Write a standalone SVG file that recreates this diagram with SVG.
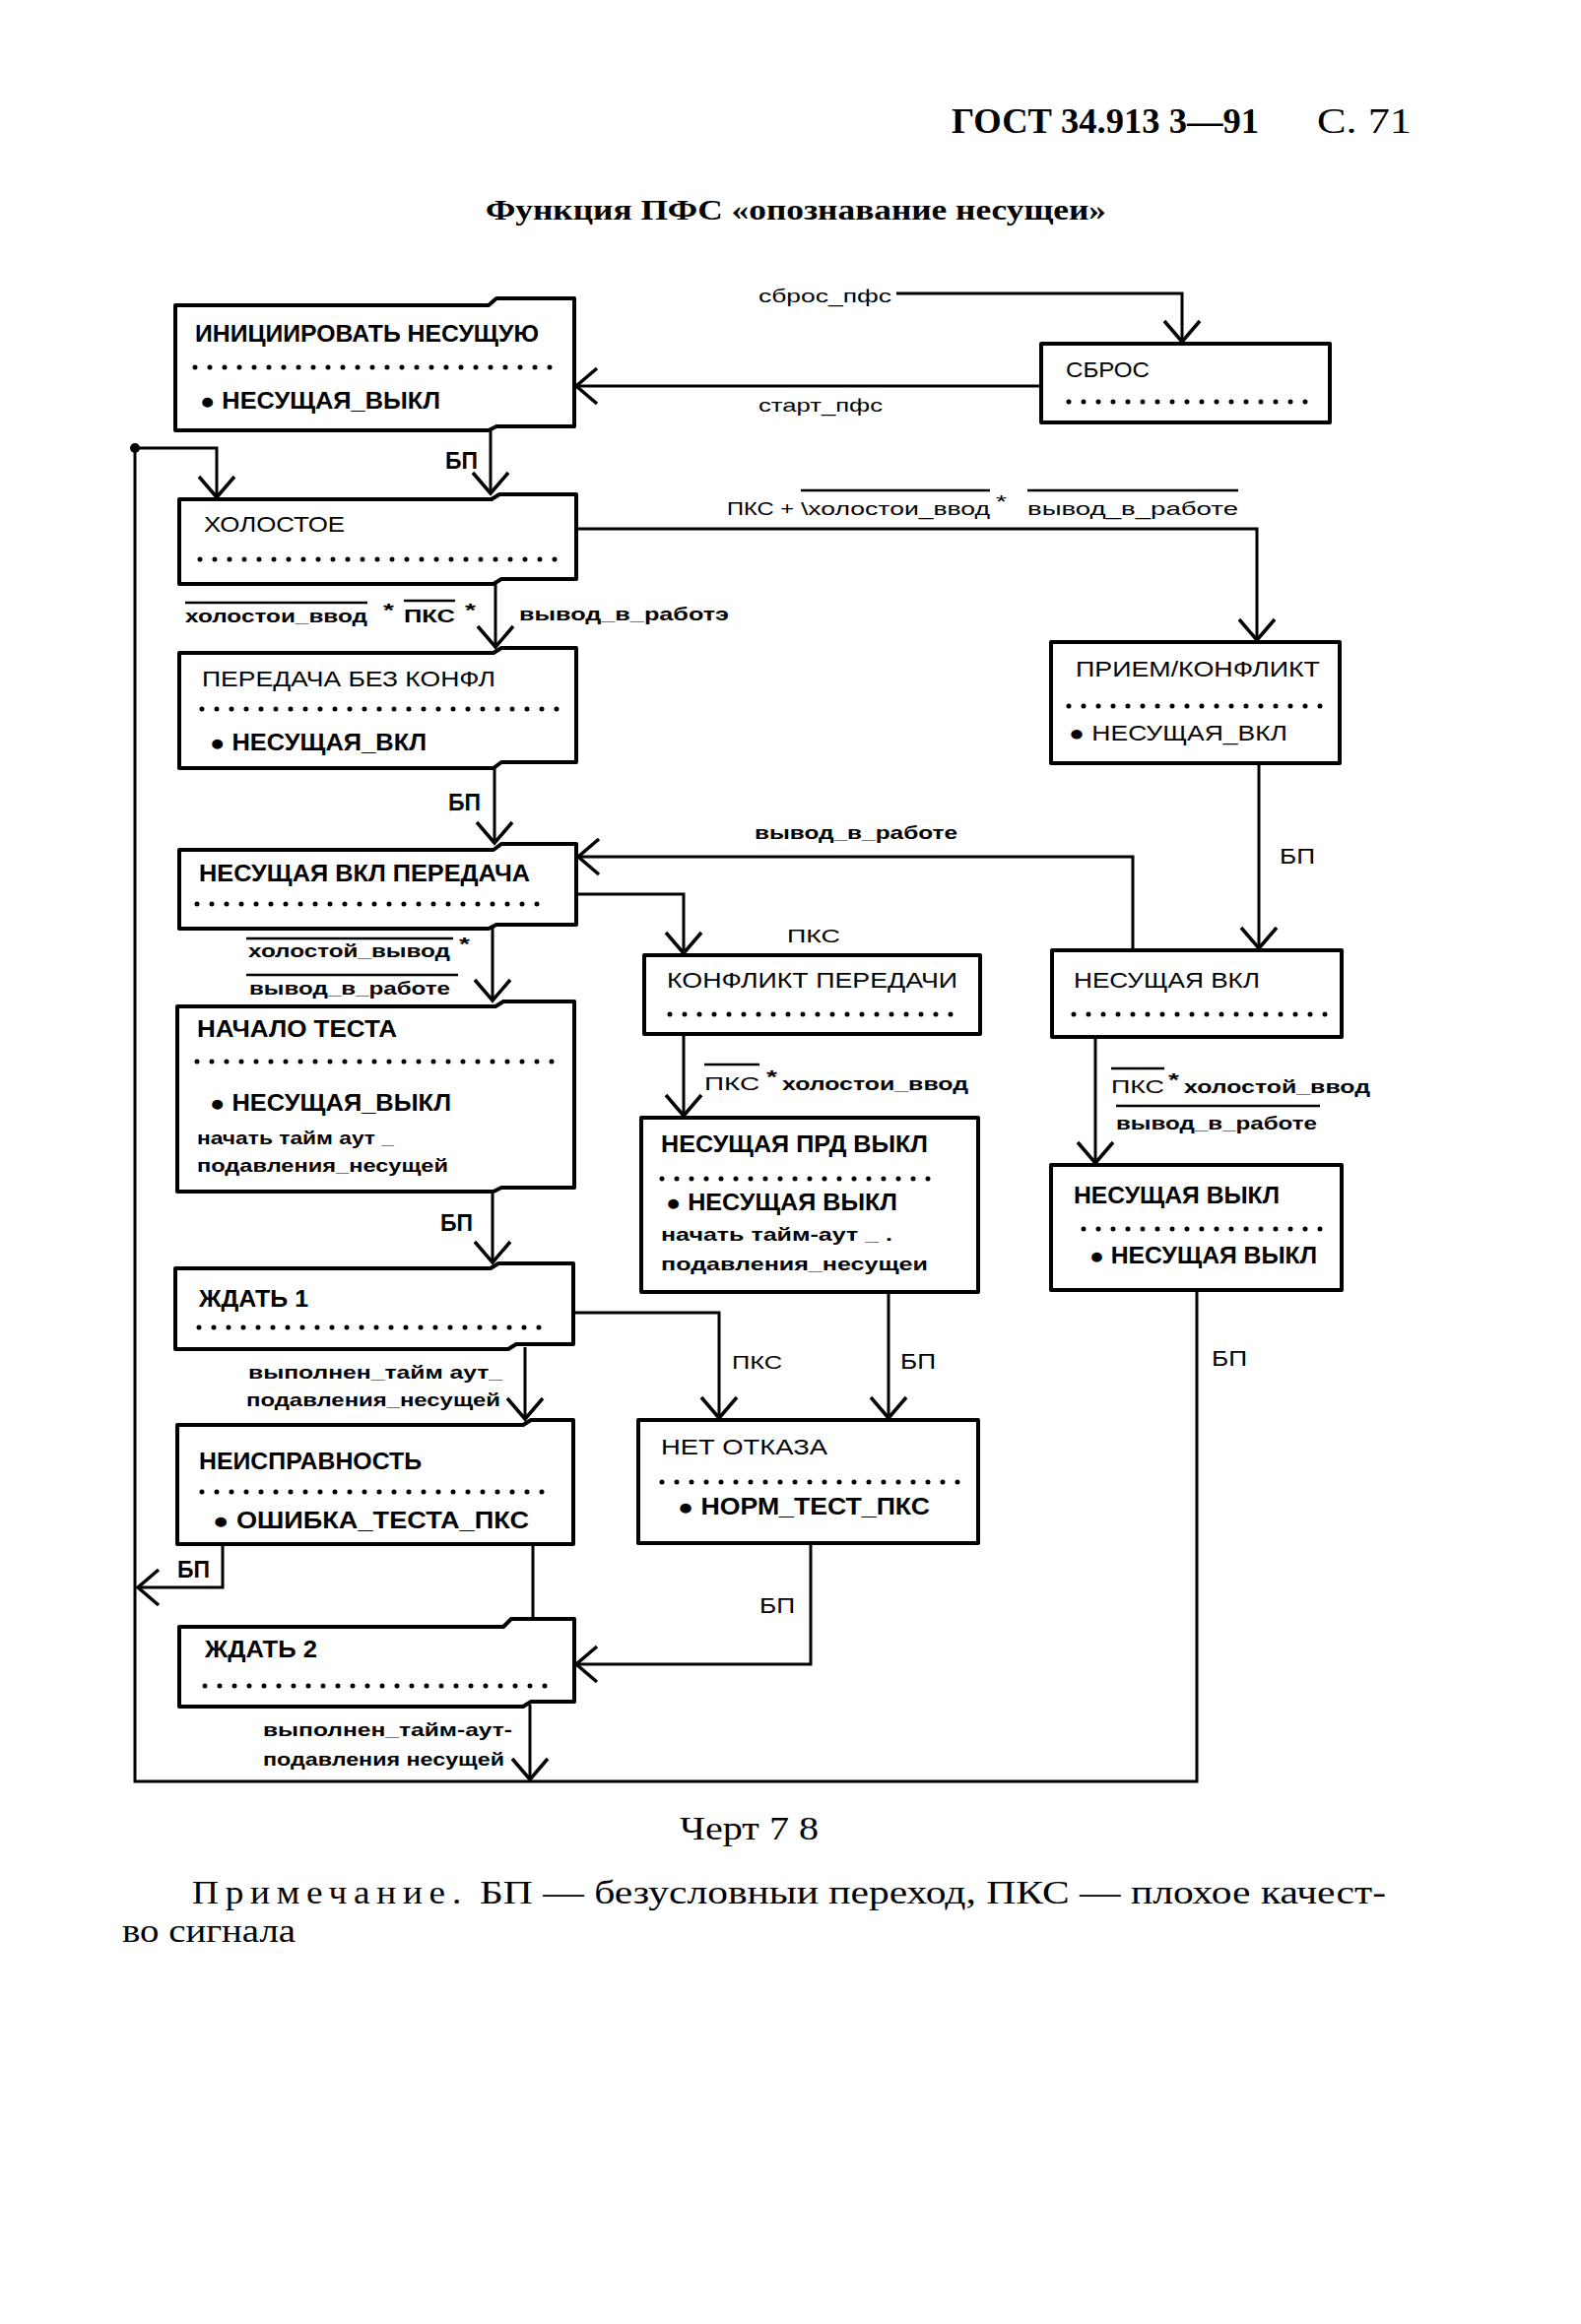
<svg xmlns="http://www.w3.org/2000/svg" width="1605" height="2360" viewBox="0 0 1605 2360">
<style>
.box{fill:none;stroke:#000;stroke-width:4;stroke-linejoin:round}
.ln{fill:none;stroke:#000;stroke-width:3}
.dots{fill:none;stroke:#000;stroke-width:5;stroke-linecap:round;stroke-dasharray:0 15}
.ov{stroke:#000;stroke-width:2.5}
.tb{font-family:"Liberation Sans",Arial,sans-serif;font-size:23px;font-weight:bold}
.tr{font-family:"Liberation Sans",Arial,sans-serif;font-size:22px}
.lb{font-family:"Liberation Sans",Arial,sans-serif;font-size:19px;font-weight:bold}
.lr{font-family:"Liberation Sans",Arial,sans-serif;font-size:19px}
.sb{font-family:"Liberation Serif","Times New Roman",serif;font-weight:bold}
.sr{font-family:"Liberation Serif","Times New Roman",serif}
</style>
<defs>
<marker id="arr" markerUnits="userSpaceOnUse" orient="auto" refX="0" refY="0" markerWidth="30" markerHeight="44" viewBox="-26 -22 30 44" overflow="visible">
<path d="M-21,-18 L0,0 L-21,18" fill="none" stroke="#000" stroke-width="3.5"/>
</marker>
</defs>
<rect width="1605" height="2360" fill="#fff"/>

<g id="header">
<text class="sb" x="966" y="135" font-size="35" textLength="312" lengthAdjust="spacingAndGlyphs">ГОСТ 34.913 3—91</text>
<text class="sr" x="1337" y="135" font-size="35" textLength="96" lengthAdjust="spacingAndGlyphs">С. 71</text>
<text class="sb" x="493" y="223" font-size="30" textLength="630" lengthAdjust="spacingAndGlyphs">Функция ПФС «опознавание несущеи»</text>
</g>

<g id="connectors">
<path class="ln" d="M910,298 H1200 V347" marker-end="url(#arr)"/>
<path class="ln" d="M1057,392 H585" marker-end="url(#arr)"/>
<path class="ln" d="M498,437 V501" marker-end="url(#arr)"/>
<path class="ln" d="M1215,1310 V1809 H137 V455 H220 V505" marker-end="url(#arr)"/>
<circle cx="137" cy="455" r="5" fill="#000"/>
<path class="ln" d="M585,537 H1276 V650" marker-end="url(#arr)"/>
<path class="ln" d="M503,593 V657" marker-end="url(#arr)"/>
<path class="ln" d="M502,778 V856" marker-end="url(#arr)"/>
<path class="ln" d="M1278,775 V963" marker-end="url(#arr)"/>
<path class="ln" d="M1150,965 V870 H587" marker-end="url(#arr)"/>
<path class="ln" d="M585,908 H694 V968" marker-end="url(#arr)"/>
<path class="ln" d="M500,941 V1016" marker-end="url(#arr)"/>
<path class="ln" d="M694,1050 V1133" marker-end="url(#arr)"/>
<path class="ln" d="M1112,1053 V1181" marker-end="url(#arr)"/>
<path class="ln" d="M500,1208 V1282" marker-end="url(#arr)"/>
<path class="ln" d="M582,1333 H730 V1440" marker-end="url(#arr)"/>
<path class="ln" d="M902,1312 V1440" marker-end="url(#arr)"/>
<path class="ln" d="M533,1368 V1441" marker-end="url(#arr)"/>
<path class="ln" d="M226,1568 V1612 H140" marker-end="url(#arr)"/>
<path class="ln" d="M541,1568 V1644"/>
<path class="ln" d="M823,1567 V1690 H585" marker-end="url(#arr)"/>
<path class="ln" d="M538,1731 V1807" marker-end="url(#arr)"/>
</g>

<g id="labels">
<text class="lr" x="770" y="307" textLength="135" lengthAdjust="spacingAndGlyphs">сброс_пфс</text>
<text class="lr" x="770" y="418" textLength="126" lengthAdjust="spacingAndGlyphs">старт_пфс</text>
<text class="tb" x="452" y="476" font-size="21" textLength="33" lengthAdjust="spacingAndGlyphs">БП</text>
<text class="lr" x="738" y="523" textLength="68" lengthAdjust="spacingAndGlyphs">ПКС +</text>
<text class="lr" x="813" y="523" textLength="192" lengthAdjust="spacingAndGlyphs">\холостои_ввод</text>
<text class="lr" x="1011" y="516" textLength="11" lengthAdjust="spacingAndGlyphs">*</text>
<text class="lr" x="1043" y="523" textLength="214" lengthAdjust="spacingAndGlyphs">вывод_в_работе</text>
<line class="ov" x1="813" y1="498" x2="1005" y2="498"/>
<line class="ov" x1="1043" y1="498" x2="1257" y2="498"/>
<text class="lb" x="188" y="632" textLength="185" lengthAdjust="spacingAndGlyphs">холостои_ввод</text>
<text class="lb" x="389" y="626" textLength="11" lengthAdjust="spacingAndGlyphs">*</text>
<text class="lb" x="410" y="632" font-size="22" textLength="52" lengthAdjust="spacingAndGlyphs">ПКС</text>
<text class="lb" x="472" y="626" textLength="11" lengthAdjust="spacingAndGlyphs">*</text>
<line class="ov" x1="188" y1="612" x2="373" y2="612"/>
<line class="ov" x1="410" y1="610" x2="462" y2="610"/>
<text class="lb" x="527" y="630" textLength="213" lengthAdjust="spacingAndGlyphs">вывод_в_работэ</text>
<text class="tb" x="455" y="823" font-size="21" textLength="33" lengthAdjust="spacingAndGlyphs">БП</text>
<text class="lb" x="766" y="852" textLength="206" lengthAdjust="spacingAndGlyphs">вывод_в_работе</text>
<text class="tr" x="1299" y="877" font-size="21" textLength="36" lengthAdjust="spacingAndGlyphs">БП</text>
<text class="lr" x="799" y="957" font-size="21" textLength="54" lengthAdjust="spacingAndGlyphs">ПКС</text>
<text class="lb" x="252" y="972" textLength="205" lengthAdjust="spacingAndGlyphs">холостой_вывод</text>
<text class="lb" x="466" y="965" textLength="11" lengthAdjust="spacingAndGlyphs">*</text>
<line class="ov" x1="250" y1="953" x2="460" y2="953"/>
<text class="lb" x="253" y="1010" textLength="204" lengthAdjust="spacingAndGlyphs">вывод_в_работе</text>
<line class="ov" x1="250" y1="990" x2="465" y2="990"/>
<text class="lr" x="715" y="1107" font-size="21" textLength="56" lengthAdjust="spacingAndGlyphs">ПКС</text>
<text class="lb" x="778" y="1100" textLength="11" lengthAdjust="spacingAndGlyphs">*</text>
<text class="lb" x="794" y="1107" textLength="189" lengthAdjust="spacingAndGlyphs">холостои_ввод</text>
<line class="ov" x1="715" y1="1081" x2="771" y2="1081"/>
<text class="lr" x="1128" y="1110" font-size="21" textLength="54" lengthAdjust="spacingAndGlyphs">ПКС</text>
<text class="lb" x="1186" y="1103" textLength="11" lengthAdjust="spacingAndGlyphs">*</text>
<text class="lb" x="1202" y="1110" textLength="189" lengthAdjust="spacingAndGlyphs">холостой_ввод</text>
<line class="ov" x1="1128" y1="1085" x2="1182" y2="1085"/>
<text class="lb" x="1133" y="1147" textLength="204" lengthAdjust="spacingAndGlyphs">вывод_в_работе</text>
<line class="ov" x1="1133" y1="1123" x2="1340" y2="1123"/>
<text class="tb" x="447" y="1250" font-size="21" textLength="33" lengthAdjust="spacingAndGlyphs">БП</text>
<text class="lr" x="743" y="1390" font-size="21" textLength="51" lengthAdjust="spacingAndGlyphs">ПКС</text>
<text class="tr" x="914" y="1390" font-size="21" textLength="36" lengthAdjust="spacingAndGlyphs">БП</text>
<text class="tr" x="1230" y="1387" font-size="21" textLength="36" lengthAdjust="spacingAndGlyphs">БП</text>
<text class="lb" x="252" y="1400" textLength="258" lengthAdjust="spacingAndGlyphs">выполнен_тайм аут_</text>
<text class="lb" x="250" y="1428" textLength="258" lengthAdjust="spacingAndGlyphs">подавления_несущей</text>
<text class="tb" x="180" y="1602" font-size="21" textLength="33" lengthAdjust="spacingAndGlyphs">БП</text>
<text class="tr" x="771" y="1638" font-size="21" textLength="36" lengthAdjust="spacingAndGlyphs">БП</text>
<text class="lb" x="267" y="1763" textLength="253" lengthAdjust="spacingAndGlyphs">выполнен_тайм-аут-</text>
<text class="lb" x="267" y="1793" textLength="245" lengthAdjust="spacingAndGlyphs">подавления несущей</text>
</g>

<g id="n-init">
<path class="box" d="M178,310 H496 L504,303 H583 V433 H504 L496,437 H178 Z"/>
<text class="tb" x="198" y="347" textLength="349" lengthAdjust="spacingAndGlyphs">ИНИЦИИРОВАТЬ НЕСУЩУЮ</text>
<line class="dots" x1="198" y1="373" x2="562" y2="373"/>
<text class="tb" x="203" y="415" textLength="244" lengthAdjust="spacingAndGlyphs">● НЕСУЩАЯ_ВЫКЛ</text>
</g>

<g id="n-sbros">
<rect class="box" x="1057" y="349" width="293" height="80"/>
<text class="tr" x="1082" y="383" textLength="85" lengthAdjust="spacingAndGlyphs">СБРОС</text>
<line class="dots" x1="1085" y1="408" x2="1332" y2="408"/>
</g>

<g id="n-holostoe">
<path class="box" d="M182,507 H499 L507,502 H585 V588 H509 L501,593 H182 Z"/>
<text class="tr" x="207" y="540" font-size="23" textLength="143" lengthAdjust="spacingAndGlyphs">ХОЛОСТОЕ</text>
<line class="dots" x1="203" y1="568" x2="565" y2="568"/>
</g>

<g id="n-peredacha">
<path class="box" d="M182,663 H501 L509,658 H585 V774 H509 L501,780 H182 Z"/>
<text class="tr" x="205" y="697" font-size="23" textLength="298" lengthAdjust="spacingAndGlyphs">ПЕРЕДАЧА БЕЗ КОНФЛ</text>
<line class="dots" x1="205" y1="720" x2="568" y2="720"/>
<text class="tb" x="213" y="762" textLength="220" lengthAdjust="spacingAndGlyphs">● НЕСУЩАЯ_ВКЛ</text>
</g>

<g id="n-nesvkl-peredacha">
<path class="box" d="M182,863 H501 L509,857 H585 V939 H504 L496,943 H182 Z"/>
<text class="tb" x="202" y="895" textLength="336" lengthAdjust="spacingAndGlyphs">НЕСУЩАЯ ВКЛ ПЕРЕДАЧА</text>
<line class="dots" x1="200" y1="918" x2="550" y2="918"/>
</g>

<g id="n-priem">
<rect class="box" x="1067" y="652" width="293" height="123"/>
<text class="tr" x="1092" y="687" textLength="248" lengthAdjust="spacingAndGlyphs">ПРИЕМ/КОНФЛИКТ</text>
<line class="dots" x1="1085" y1="717" x2="1350" y2="717"/>
<text class="tr" x="1085" y="752" textLength="222" lengthAdjust="spacingAndGlyphs">● НЕСУЩАЯ_ВКЛ</text>
</g>

<g id="n-nachalo">
<path class="box" d="M180,1022 H503 L511,1017 H583 V1206 H509 L501,1210 H180 Z"/>
<text class="tb" x="200" y="1053" textLength="203" lengthAdjust="spacingAndGlyphs">НАЧАЛО ТЕСТА</text>
<line class="dots" x1="200" y1="1078" x2="562" y2="1078"/>
<text class="tb" x="213" y="1128" textLength="245" lengthAdjust="spacingAndGlyphs">● НЕСУЩАЯ_ВЫКЛ</text>
<text class="lb" x="200" y="1162" textLength="200" lengthAdjust="spacingAndGlyphs">начать тайм аут _</text>
<text class="lb" x="200" y="1190" textLength="255" lengthAdjust="spacingAndGlyphs">подавления_несущей</text>
</g>

<g id="n-konflikt">
<rect class="box" x="654" y="970" width="341" height="80"/>
<text class="tr" x="677" y="1003" textLength="295" lengthAdjust="spacingAndGlyphs">КОНФЛИКТ ПЕРЕДАЧИ</text>
<line class="dots" x1="680" y1="1030" x2="977" y2="1030"/>
</g>

<g id="n-nesvkl">
<rect class="box" x="1068" y="965" width="294" height="88"/>
<text class="tr" x="1090" y="1003" textLength="189" lengthAdjust="spacingAndGlyphs">НЕСУЩАЯ ВКЛ</text>
<line class="dots" x1="1090" y1="1030" x2="1350" y2="1030"/>
</g>

<g id="n-nesprdvykl">
<rect class="box" x="651" y="1135" width="342" height="177"/>
<text class="tb" x="671" y="1170" textLength="271" lengthAdjust="spacingAndGlyphs">НЕСУЩАЯ ПРД ВЫКЛ</text>
<line class="dots" x1="672" y1="1197" x2="952" y2="1197"/>
<text class="tb" x="676" y="1229" textLength="235" lengthAdjust="spacingAndGlyphs">● НЕСУЩАЯ ВЫКЛ</text>
<text class="lb" x="671" y="1260" textLength="235" lengthAdjust="spacingAndGlyphs">начать тайм-аут _ .</text>
<text class="lb" x="671" y="1290" textLength="271" lengthAdjust="spacingAndGlyphs">подавления_несущеи</text>
</g>

<g id="n-nesvykl">
<rect class="box" x="1067" y="1183" width="295" height="127"/>
<text class="tb" x="1090" y="1222" textLength="209" lengthAdjust="spacingAndGlyphs">НЕСУЩАЯ ВЫКЛ</text>
<line class="dots" x1="1100" y1="1248" x2="1352" y2="1248"/>
<text class="tb" x="1106" y="1283" textLength="231" lengthAdjust="spacingAndGlyphs">● НЕСУЩАЯ ВЫКЛ</text>
</g>

<g id="n-zhdat1">
<path class="box" d="M178,1288 H498 L506,1283 H582 V1365 H524 L516,1370 H178 Z"/>
<text class="tb" x="202" y="1327" textLength="111" lengthAdjust="spacingAndGlyphs">ЖДАТЬ 1</text>
<line class="dots" x1="202" y1="1348" x2="562" y2="1348"/>
</g>

<g id="n-neispr">
<path class="box" d="M180,1447 H531 L539,1442 H582 V1568 H180 Z"/>
<text class="tb" x="202" y="1492" textLength="226" lengthAdjust="spacingAndGlyphs">НЕИСПРАВНОСТЬ</text>
<line class="dots" x1="205" y1="1515" x2="565" y2="1515"/>
<text class="tb" x="216" y="1552" textLength="321" lengthAdjust="spacingAndGlyphs">● ОШИБКА_ТЕСТА_ПКС</text>
</g>

<g id="n-net-otkaza">
<rect class="box" x="648" y="1442" width="345" height="125"/>
<text class="tr" x="671" y="1477" textLength="169" lengthAdjust="spacingAndGlyphs">НЕТ ОТКАЗА</text>
<line class="dots" x1="672" y1="1505" x2="980" y2="1505"/>
<text class="tb" x="688" y="1538" textLength="256" lengthAdjust="spacingAndGlyphs">● НОРМ_ТЕСТ_ПКС</text>
</g>

<g id="n-zhdat2">
<path class="box" d="M182,1652 H511 L519,1644 H583 V1728 H539 L531,1733 H182 Z"/>
<text class="tb" x="208" y="1683" textLength="114" lengthAdjust="spacingAndGlyphs">ЖДАТЬ 2</text>
<line class="dots" x1="208" y1="1712" x2="565" y2="1712"/>
</g>

<g id="footer">
<text class="sr" x="690" y="1868" font-size="33" textLength="141" lengthAdjust="spacingAndGlyphs">Черт 7 8</text>
<text class="sr" x="195" y="1933" font-size="33" textLength="280" lengthAdjust="spacingAndGlyphs" letter-spacing="6">Примечание.</text>
<text class="sr" x="487" y="1933" font-size="33" textLength="920" lengthAdjust="spacingAndGlyphs">БП — безусловныи переход, ПКС — плохое качест-</text>
<text class="sr" x="124" y="1972" font-size="33" textLength="176" lengthAdjust="spacingAndGlyphs">во сигнала</text>
</g>
</svg>
